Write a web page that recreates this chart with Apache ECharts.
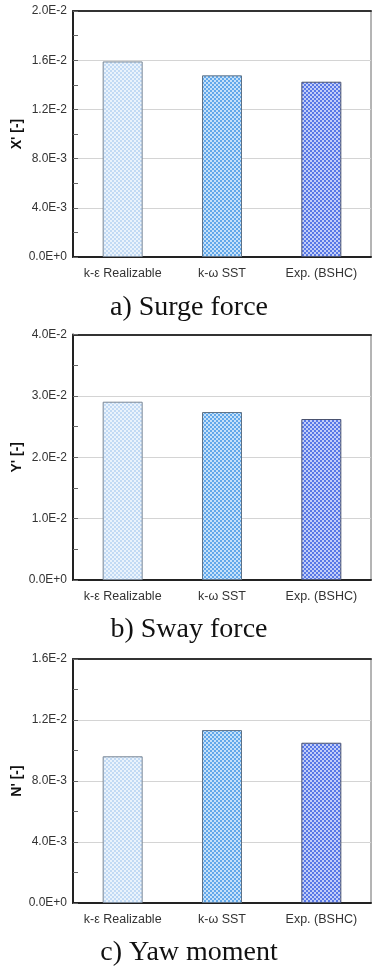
<!DOCTYPE html>
<html>
<head>
<meta charset="utf-8">
<script src="https://cdn.jsdelivr.net/npm/echarts@6/dist/echarts.min.js"></script>
<style>
html,body{margin:0;padding:0;background:#fff;}
#c{width:373px;height:967px;}
</style>
</head>
<body>
<div id="c"></div>
<script>
// ---- data ----
var categories = ['k-\u03b5 Realizable', 'k-\u03c9 SST', 'Exp. (BSHC)'];
var surge = [0.0159, 0.01477, 0.01425];
var sway = [0.02905, 0.02737, 0.02623];
var yaw = [0.00962, 0.01134, 0.01051];
var yNames = ["X' [-]", "Y' [-]", "N' [-]"];
var yMax = [0.02, 0.04, 0.016];
var yInterval = [0.004, 0.01, 0.004];
var captions = ['a) Surge force', 'b) Sway force', 'c) Yaw moment'];

// ---- styling helpers ----
function checker(c1, c2) {
  var cv = document.createElement('canvas');
  cv.width = 4; cv.height = 4;
  var ctx = cv.getContext('2d');
  ctx.fillStyle = c1; ctx.fillRect(0, 0, 4, 4);
  ctx.fillStyle = c2; ctx.fillRect(0, 0, 2, 2); ctx.fillRect(2, 2, 2, 2);
  return { image: cv, repeat: 'repeat' };
}
var fills = [
  checker('#eaf3fc', '#c2daf4'),
  checker('#c6e1f9', '#62a8ea'),
  checker('#c2cef8', '#5878e6')
];
var borders = ['#7a8796', '#5f7286', '#4a5270'];

function fmt(v) {
  if (Math.abs(v) < 1e-12) return '0.0E+0';
  var e = Math.floor(Math.log10(v) + 1e-9);
  var m = v / Math.pow(10, e);
  return m.toFixed(1) + 'E' + (e >= 0 ? '+' + e : e);
}

var tops = [11, 334.5, 659];
var heights = [246, 245.5, 244];
var seriesData = [surge, sway, yaw];

var grid = [], xAxis = [], yAxis = [], series = [], graphic = [];
for (var i = 0; i < 3; i++) {
  grid.push({ left: 73, top: tops[i], width: 298, height: heights[i],
    containLabel: false, outerBoundsMode: 'none',
    show: true, borderColor: '#6a6a6a', borderWidth: 1, backgroundColor: 'transparent' });
  xAxis.push({
    type: 'category', gridIndex: i, data: categories,
    axisLine: { lineStyle: { color: '#222', width: 2 } },
    axisTick: { show: false },
    axisLabel: { fontFamily: 'Liberation Sans, Arial', fontSize: 12.5, color: '#333', margin: 10,
      interval: 0, hideOverlap: false },
    splitLine: { show: false }
  });
  xAxis.push({
    type: 'category', gridIndex: i, position: 'top', data: categories,
    axisLine: { lineStyle: { color: '#333', width: 2 } },
    axisTick: { show: false }, axisLabel: { show: false }, splitLine: { show: false }
  });
  yAxis.push({
    type: 'value', gridIndex: i, min: 0, max: yMax[i], interval: yInterval[i],
    name: yNames[i], nameLocation: 'middle', nameGap: 49, nameMoveOverlap: false,
    nameTextStyle: { fontFamily: 'Liberation Sans, Arial', fontWeight: 'bold', fontSize: 14, color: '#111' },
    axisLine: { show: true, lineStyle: { color: '#222', width: 2 } },
    axisTick: { show: true, inside: true, length: 5, lineStyle: { color: '#666' } },
    minorTick: { show: true, splitNumber: 2, length: 5, lineStyle: { color: '#666' } },
    axisLabel: { fontFamily: 'Liberation Sans, Arial', fontSize: 12, color: '#333', margin: 6, formatter: fmt },
    splitLine: { show: true, lineStyle: { color: '#d4d4d4', width: 1 } }
  });
  series.push({
    type: 'bar', xAxisIndex: i * 2, yAxisIndex: i, barWidth: 40,
    data: seriesData[i].map(function (v, k) {
      return { value: v, itemStyle: { color: fills[k], borderColor: borders[k], borderWidth: 1 } };
    }),
    z: 3
  });
}
var capY = [308, 630, 953];
for (var j = 0; j < 3; j++) {
  graphic.push({
    type: 'text', x: 189, y: capY[j],
    style: { text: captions[j], font: '28px "Liberation Serif", "DejaVu Serif", serif', fill: '#111',
      textAlign: 'center', textVerticalAlign: 'middle' }
  });
}

var chart = echarts.init(document.getElementById('c'), null, { renderer: 'canvas' });
chart.setOption({
  animation: false,
  backgroundColor: '#fff',
  grid: grid, xAxis: xAxis, yAxis: yAxis, series: series, graphic: graphic
});
</script>
</body>
</html>
